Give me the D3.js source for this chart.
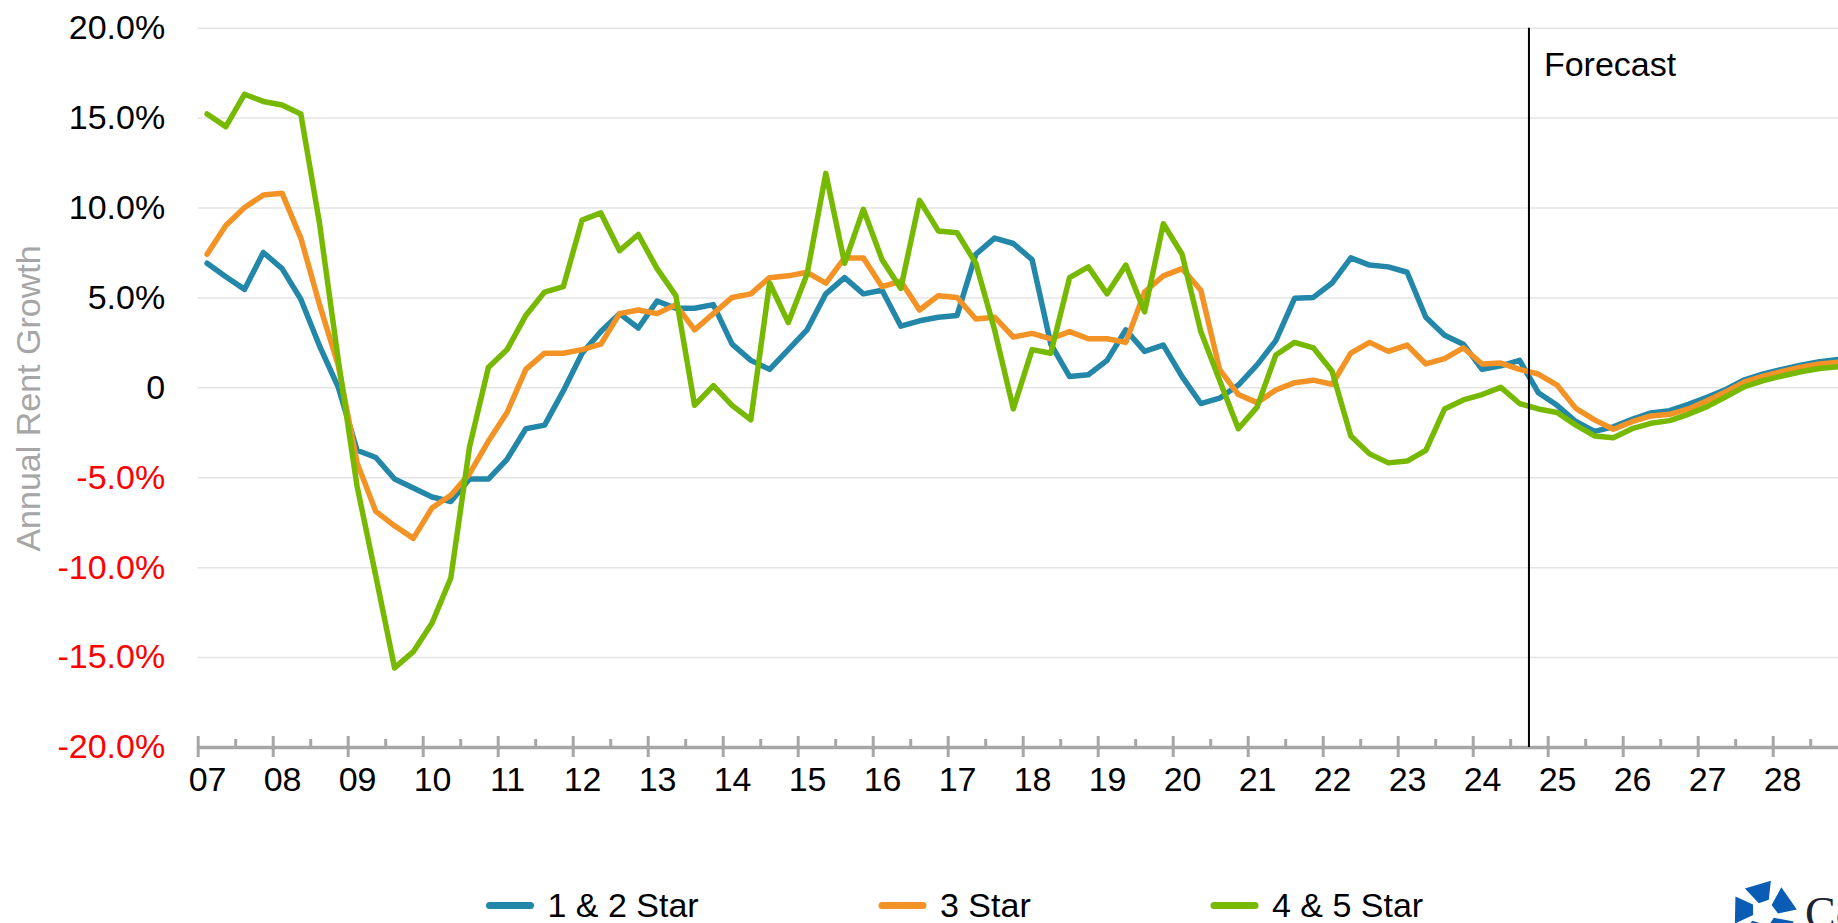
<!DOCTYPE html>
<html>
<head>
<meta charset="utf-8">
<script src="https://cdn.jsdelivr.net/npm/d3@7"></script>
<style>
  html, body { margin: 0; padding: 0; background: #fff; }
  svg { display: block; font-family: "Liberation Sans", Arial, sans-serif; }
</style>
</head>
<body>
<div id="chart"></div>
<script>
const yearLabels = ["07","08","09","10","11","12","13","14","15","16","17","18","19","20","21","22","23","24","25","26","27","28"];
const quarters = ["Q1","Q2","Q3","Q4"];
const categories = yearLabels.flatMap(y => quarters.map(q => y + " " + q));
const forecastAfter = "24 Q3";

const oneTwoStar = [
  6.9, 6.15, 5.45, 7.5, 6.6, 4.9, 2.3, 0.0,
  -3.5, -3.9, -5.1, -5.6, -6.1, -6.35, -5.1, -5.1,
  -4.0, -2.3, -2.1, -0.2, 1.9, 3.1, 4.1, 3.3,
  4.8, 4.4, 4.4, 4.6, 2.4, 1.5, 1.0, 2.1,
  3.2, 5.2, 6.1, 5.2, 5.4, 3.4, 3.7, 3.9,
  4.0, 7.4, 8.3, 8.0, 7.1, 2.4, 0.6, 0.7,
  1.5, 3.2, 2.0, 2.35, 0.6, -0.9, -0.6, 0.13,
  1.25, 2.6, 4.95, 5.0, 5.8, 7.2, 6.8, 6.7,
  6.4, 3.9, 2.9, 2.4, 1.0, 1.2, 1.5, -0.3,
  -1.0, -1.9, -2.45, -2.2, -1.78, -1.42, -1.3, -0.95,
  -0.55, -0.12, 0.42, 0.75, 1.0, 1.23, 1.42, 1.55
];
const threeStar = [
  7.4, 9.0, 10.0, 10.7, 10.8, 8.3, 4.6, 1.2,
  -4.2, -6.9, -7.7, -8.4, -6.7, -6.0, -4.8, -3.0,
  -1.4, 1.0, 1.9, 1.9, 2.1, 2.4, 4.1, 4.3,
  4.1, 4.6, 3.2, 4.1, 5.0, 5.2, 6.1, 6.2,
  6.4, 5.8, 7.2, 7.2, 5.6, 5.9, 4.3, 5.1,
  5.0, 3.8, 3.9, 2.8, 3.0, 2.7, 3.1, 2.7,
  2.7, 2.5, 5.3, 6.2, 6.6, 5.4, 1.0, -0.4,
  -0.85, -0.15, 0.26, 0.4, 0.17, 1.9, 2.5, 2.0,
  2.35, 1.3, 1.6, 2.2, 1.3, 1.35, 1.0, 0.74,
  0.13, -1.17, -1.81, -2.33, -1.91, -1.59, -1.5, -1.2,
  -0.75, -0.25, 0.3, 0.62, 0.88, 1.12, 1.3, 1.4
];
const fourFiveStar = [
  15.2, 14.5, 16.3, 15.9, 15.7, 15.2, 9.1, 1.5,
  -5.5, -10.5, -15.6, -14.7, -13.1, -10.6, -3.3, 1.1,
  2.1, 4.0, 5.3, 5.6, 9.3, 9.7, 7.6, 8.5,
  6.6, 5.1, -1.0, 0.1, -1.0, -1.8, 5.8, 3.6,
  6.3, 11.9, 6.9, 9.9, 7.1, 5.5, 10.4, 8.7,
  8.6, 6.9, 3.2, -1.2, 2.1, 1.9, 6.1, 6.7,
  5.2, 6.8, 4.2, 9.1, 7.4, 3.1, 0.4, -2.3,
  -1.1, 1.8, 2.5, 2.2, 0.9, -2.7, -3.7, -4.2,
  -4.1, -3.5, -1.2, -0.7, -0.4, 0.0, -0.9, -1.2,
  -1.4, -2.1, -2.7, -2.8, -2.3, -2.0, -1.85, -1.5,
  -1.07, -0.52, 0.04, 0.37, 0.63, 0.87, 1.05, 1.15
];
const yTicks = [-20, -15, -10, -5, 0, 5, 10, 15, 20];

const series = [
  { name: "1 & 2 Star", values: oneTwoStar, color: "#2287A8" },
  { name: "3 Star", values: threeStar, color: "#F39325" },
  { name: "4 & 5 Star", values: fourFiveStar, color: "#76B900" }
];

const width = 1838, height = 923;
const left = 197.7, step = 18.75;
const fontSize = 34;

const svg = d3.select("#chart").append("svg")
  .attr("width", width)
  .attr("height", height)
  .attr("viewBox", `0 0 ${width} ${height}`);

const x = d3.scaleLinear()
  .domain([0, categories.length])
  .range([left, left + categories.length * step]);

const y = d3.scaleLinear()
  .domain([-20, 20])
  .range([747, 27.7]);

// gridlines
svg.append("g")
  .attr("transform", `translate(${left},0)`)
  .call(d3.axisLeft(y).tickValues(yTicks).tickSize(-(width - left)).tickFormat(""))
  .call(g => g.select(".domain").remove())
  .call(g => g.selectAll("line").attr("stroke", "#E4E4E4").attr("stroke-width", 1.5));

// y labels (plain hyphen for negatives, as in the original)
const fmt = d => d === 0 ? "0" : d.toFixed(1) + "%";
svg.append("g")
  .attr("transform", `translate(${left},0)`)
  .call(d3.axisLeft(y).tickValues(yTicks).tickSize(0).tickPadding(32.5).tickFormat(fmt))
  .call(g => g.select(".domain").remove())
  .call(g => g.selectAll("text")
    .attr("font-size", fontSize)
    .attr("font-family", "Liberation Sans, Arial, sans-serif")
    .attr("fill", d => d < 0 ? "#FF0000" : "#000"));

svg.append("text")
  .attr("transform", `translate(39.5,398.5) rotate(-90)`)
  .attr("text-anchor", "middle")
  .attr("font-size", fontSize)
  .attr("fill", "#A6A6A6")
  .text("Annual Rent Growth");

// x axis: major ticks every year, minor every half year
const majorIdx = d3.range(0, categories.length + 1, 4);
const minorIdx = d3.range(2, categories.length + 1, 4);

svg.append("g")
  .attr("transform", `translate(0,${y(-20)})`)
  .call(d3.axisBottom(x).tickValues(minorIdx).tickSize(-8).tickSizeOuter(0).tickFormat(""))
  .call(g => g.select(".domain").remove())
  .call(g => g.selectAll("line").attr("stroke", "#A6A6A6").attr("stroke-width", 3));

svg.append("g")
  .attr("transform", `translate(0,${y(-20)})`)
  .call(d3.axisBottom(x).tickValues(majorIdx).tickSize(10).tickSizeOuter(0).tickFormat(""))
  .call(g => g.select(".domain").attr("stroke", "#A6A6A6").attr("stroke-width", 3.5))
  .call(g => g.selectAll(".tick line").attr("y1", -11).attr("stroke", "#A6A6A6").attr("stroke-width", 3));

svg.append("g")
  .attr("transform", `translate(0,${y(-20)})`)
  .call(d3.axisBottom(x)
    .tickValues(yearLabels.map((_, k) => k * 4 + 0.5))
    .tickSize(0).tickPadding(20)
    .tickFormat((d, k) => yearLabels[k]))
  .call(g => g.select(".domain").remove())
  .call(g => g.selectAll("text")
    .attr("font-size", fontSize)
    .attr("font-family", "Liberation Sans, Arial, sans-serif")
    .attr("fill", "#000"));

// series lines
const line = d3.line()
  .x((d, i) => x(i + 0.5))
  .y(d => y(d));

svg.append("g")
  .selectAll("path")
  .data(series)
  .join("path")
  .attr("d", d => line(d.values))
  .attr("fill", "none")
  .attr("stroke", d => d.color)
  .attr("stroke-width", 5.5)
  .attr("stroke-linejoin", "round")
  .attr("stroke-linecap", "round");

// forecast divider
const fx = x(categories.indexOf(forecastAfter) + 1);
svg.append("line")
  .attr("x1", fx).attr("x2", fx)
  .attr("y1", y(20)).attr("y2", y(-20))
  .attr("stroke", "#000")
  .attr("stroke-width", 2);

svg.append("text")
  .attr("x", fx + 15)
  .attr("y", 76)
  .attr("font-size", fontSize)
  .attr("fill", "#000")
  .text("Forecast");

// legend
const legendX = [486.5, 879, 1211];
const legend = svg.append("g")
  .selectAll("g")
  .data(series)
  .join("g")
  .attr("transform", (d, i) => `translate(${legendX[i]},905.5)`);

legend.append("line")
  .attr("x1", 3).attr("x2", 44)
  .attr("stroke", d => d.color)
  .attr("stroke-width", 7)
  .attr("stroke-linecap", "round");

legend.append("text")
  .attr("x", 61)
  .attr("y", 11)
  .attr("font-size", fontSize)
  .attr("fill", "#000")
  .text(d => d.name);

// logo (partly cropped at the bottom edge, as in the original)
const logo = svg.append("g").attr("transform", "translate(1764,913)");
const pieceAngles = [-100, -28, 44, 116, 188];
const pt = (deg, r) => {
  const a = deg * Math.PI / 180;
  return [Math.cos(a) * r, Math.sin(a) * r];
};
logo.selectAll("polygon")
  .data(pieceAngles)
  .join("polygon")
  .attr("points", a => [pt(a - 18, 11), pt(a - 28, 31), pt(a + 22, 33), pt(a + 30, 14)]
    .map(p => p.join(",")).join(" "))
  .attr("fill", "#0B5CB4");

svg.append("text")
  .attr("x", 1805)
  .attr("y", 929)
  .attr("font-size", 46)
  .attr("font-family", "Liberation Serif, Times New Roman, serif")
  .attr("fill", "#1B2433")
  .text("Co");
</script>
</body>
</html>
